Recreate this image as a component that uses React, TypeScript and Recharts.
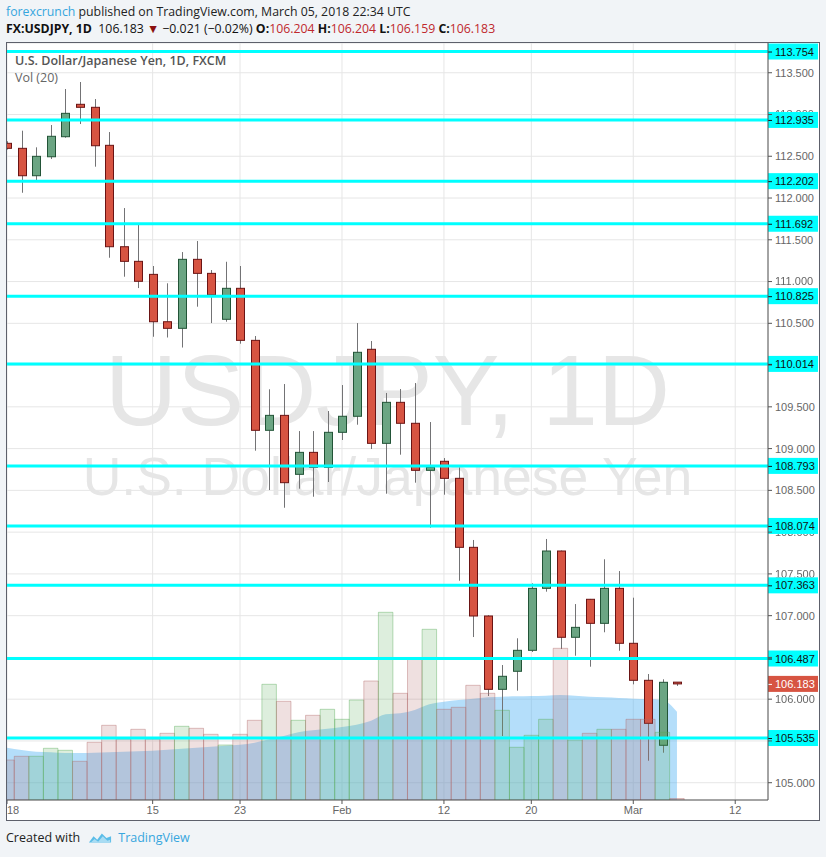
import React from 'react';
import { ComposedChart, Bar, Area, XAxis, YAxis, CartesianGrid, ReferenceLine, Cell } from 'recharts';

const dates = ['Jan 1','Jan 2','Jan 3','Jan 4','Jan 5','Jan 8','Jan 9','Jan 10','Jan 11','Jan 12','Jan 15','Jan 16','Jan 17','Jan 18','Jan 19','Jan 22','Jan 23','Jan 24','Jan 25','Jan 26','Jan 29','Jan 30','Jan 31','Feb 1','Feb 2','Feb 5','Feb 6','Feb 7','Feb 8','Feb 9','Feb 12','Feb 13','Feb 14','Feb 15','Feb 16','Feb 19','Feb 20','Feb 21','Feb 22','Feb 23','Feb 26','Feb 27','Feb 28','Mar 1','Mar 2','Mar 5','Mar 6'];
const opens = [112.655,112.595,112.267,112.494,112.734,113.122,113.086,112.631,111.417,111.242,111.086,110.519,110.44,111.266,111.098,110.548,110.919,110.296,109.219,109.398,108.692,108.955,108.776,109.195,109.387,110.189,109.063,109.554,109.303,108.74,108.848,108.644,107.818,106.996,106.118,106.334,106.585,107.327,107.774,106.741,107.196,106.908,107.327,106.669,106.226,105.448,106.204];
const highs = [112.68,112.806,112.607,112.874,113.305,113.389,113.185,112.79,111.88,111.677,111.186,110.979,111.353,111.485,111.138,111.237,111.186,110.348,109.71,109.773,109.21,109.21,109.45,109.761,110.503,110.288,109.666,109.713,109.785,109.318,108.887,108.776,107.906,107.006,106.409,106.729,107.387,107.918,107.78,107.139,107.2,107.675,107.534,107.215,106.301,106.238,106.204];
const lows = [112.58,112.063,112.215,112.467,112.722,112.886,112.375,111.285,111.058,110.922,110.339,110.33,110.21,110.699,110.503,110.519,110.256,108.975,108.504,108.292,108.52,108.424,108.6,109.103,109.286,108.995,108.46,108.927,108.592,108.053,108.448,107.418,106.744,106.038,105.559,106.102,106.565,107.287,106.601,106.52,106.389,106.801,106.58,106.178,105.263,105.359,106.159];
const closes = [112.595,112.267,112.499,112.739,113.014,113.086,112.626,111.417,111.242,111.003,110.519,110.44,111.266,111.098,110.839,110.919,110.296,109.219,109.398,108.592,108.955,108.776,109.195,109.387,110.153,109.063,109.554,109.303,108.74,108.776,108.644,107.818,106.996,106.118,106.274,106.585,107.327,107.774,106.741,106.86,106.908,107.327,106.669,106.226,105.711,106.202,106.183];
const volumes = [40,43.7,43.7,51.7,49.7,38.7,57.7,74.7,60.7,70.7,60.7,66.7,73.7,71.7,65.7,55,65.7,79.7,115.7,98.7,79.7,84.7,90.7,80.7,100,119,187.7,106.7,140.7,170.7,90.7,92.7,114.7,106.7,89.7,52.7,64.7,80.7,151.7,60,66.7,70.7,70.7,80.7,80.7,67.7,1.5];
const volumeMa = [52.3,50,48.3,47.7,47,47,47.3,47.7,48.3,48.7,49.3,50.3,51.3,52.3,53.3,54.3,55.3,57.3,60.7,64,67.7,69.7,71.3,73,75.3,79.3,85.7,86.7,90,95.7,98.3,100,101.3,102.7,103.3,103.7,104,104.3,105,104.3,103.3,102.7,102,101.3,101,100,88.3];
const levels = [113.754,112.935,112.202,111.692,110.825,110.014,108.793,108.074,107.363,106.487,105.535];
const priceTicks = [105,105.5,106,106.5,107,107.5,108,108.5,109,109.5,110,110.5,111,111.5,112,112.5,113,113.5];
const timeTickIdx = [0,10,16,23,30,36,43,50];
const timeTickLabels = ["'18",'15','23','Feb','12','20','Mar','12'];
const lastPrice = 106.183;
const priceDomain = [104.793, 113.856];

const data = dates.map((d, i) => ({
  i,
  date: d,
  open: opens[i],
  high: highs[i],
  low: lows[i],
  close: closes[i],
  range: [lows[i], highs[i]],
  vol: volumes[i],
  volMa: volumeMa[i],
}));

const UP = '#6ba583';
const UP_BORDER = '#225437';
const DOWN = '#d75442';
const DOWN_BORDER = '#6b1414';
const AXIS_FONT = '"Liberation Sans", Arial, sans-serif';

const Candle = (props: any) => {
  const { x, y, width, height, payload } = props;
  if (x == null || y == null) return null;
  const top = Math.min(y, y + height);
  const bot = Math.max(y, y + height);
  const hi = payload.high;
  const lo = payload.low;
  const span = hi - lo || 1e-9;
  const py = (v: number) => top + ((hi - v) / span) * (bot - top);
  const cx = Math.round(x + width / 2) + 0.5;
  const up = payload.close >= payload.open;
  const bTop = py(Math.max(payload.open, payload.close));
  const bBot = py(Math.min(payload.open, payload.close));
  return (
    <g>
      <line x1={cx} x2={cx} y1={top} y2={bot} stroke="#737375" strokeWidth={1} />
      <rect
        x={cx - 4}
        y={bTop}
        width={8}
        height={Math.max(bBot - bTop, 1)}
        fill={up ? UP : DOWN}
        stroke={up ? UP_BORDER : DOWN_BORDER}
        strokeWidth={1}
      />
    </g>
  );
};

// Price-axis tick label; the parts that the level boxes cover are masked out,
// as the boxes are painted over the axis in the original. Labels that a box
// covers completely are not visible in the original, so they are skipped.
const PriceTick = (props: any) => {
  const { x, y, payload, viewBox } = props;
  const v = payload.value as number;
  const boxes = [...levels, lastPrice];
  const pxPerUnit = viewBox && viewBox.height ? viewBox.height / (priceDomain[1] - priceDomain[0]) : 83.53;
  const covering = boxes
    .map((b) => y - (b - v) * pxPerUnit)
    .filter((yb) => Math.abs(yb - y) < 16);
  if (covering.some((yb) => Math.abs(yb - y) <= 3.5)) return <g />;
  const id = `pmask-${String(v).replace('.', '_')}`;
  return (
    <g>
      {covering.length > 0 && (
        <defs>
          <mask id={id} maskUnits="userSpaceOnUse" x={x - 20} y={y - 20} width={80} height={40}>
            <rect x={x - 20} y={y - 20} width={80} height={40} fill="white" />
            {covering.map((yb, k) => (
              <rect key={k} x={x - 20} y={yb - 8} width={80} height={16} fill="black" />
            ))}
          </mask>
        </defs>
      )}
      <text
        x={x}
        y={y}
        dy="0.355em"
        textAnchor="start"
        fontSize={11}
        fill="#666"
        fontFamily={AXIS_FONT}
        mask={covering.length > 0 ? `url(#${id})` : undefined}
      >
        {v.toFixed(3)}
      </text>
    </g>
  );
};

const LevelLabel = (props: any) => {
  const { viewBox, txt, bg, color } = props;
  if (!viewBox) return null;
  const lx = viewBox.x + viewBox.width;
  const y = viewBox.y;
  return (
    <g>
      <rect x={lx} y={y - 8} width={50} height={16} fill={bg} />
      <line x1={lx} x2={lx + 4} y1={y + 0.5} y2={y + 0.5} stroke={color} strokeWidth={1} />
      <text x={lx + 7} y={y + 4} fontSize={11} fill={color} fontFamily={AXIS_FONT}>{txt}</text>
    </g>
  );
};

const TimeTick = (props: any) => {
  const { x, y, payload } = props;
  const idx = timeTickIdx.indexOf(payload.value);
  const label = idx >= 0 ? timeTickLabels[idx] : '';
  const dx = payload.value === 0 ? 5 : 0;
  return (
    <text x={x + dx} y={y + 8} textAnchor="middle" fontSize={11} fill="#666" fontFamily={AXIS_FONT}>{label}</text>
  );
};

export default function App() {
  return (
    <div style={{ position: 'absolute', left: 0, top: 0, width: 826, height: 857, background: '#f1f4f7', overflow: 'hidden', fontFamily: '"Open Sans", sans-serif' }}>
      <div style={{ position: 'absolute', left: 6, top: 2, fontSize: 12.3, lineHeight: '20px', color: '#222', whiteSpace: 'nowrap' }}>
        <span style={{ color: '#37a6de' }}>forexcrunch</span> published on TradingView.com, March 05, 2018 22:34 UTC
      </div>
      <div style={{ position: 'absolute', left: 6, top: 19, fontSize: 12.3, lineHeight: '20px', color: '#111', whiteSpace: 'nowrap' }}>
        <b>FX:USDJPY, 1D</b>&nbsp; 106.183 <span style={{ color: '#8b1010' }}>▼</span> −0.021 (−0.02%) <b>O:</b><span style={{ color: '#c0282d' }}>106.204</span> <b>H:</b><span style={{ color: '#c0282d' }}>106.204</span> <b>L:</b><span style={{ color: '#c0282d' }}>106.159</span> <b>C:</b><span style={{ color: '#c0282d' }}>106.183</span>
      </div>

      <div style={{ position: 'absolute', left: 6, top: 42, width: 812, height: 777, border: '1px solid #5d606b', background: '#ffffff', overflow: 'hidden' }}>
        <div style={{ position: 'absolute', left: -7, top: -43 + 340, width: 775, textAlign: 'center', fontSize: 100, lineHeight: '100px', color: '#e6e6e6', fontFamily: AXIS_FONT, whiteSpace: 'nowrap' }}>USDJPY, 1D</div>
        <div style={{ position: 'absolute', left: -7, top: -43 + 450, width: 775, textAlign: 'center', fontSize: 53.5, lineHeight: '53.5px', color: '#e6e6e6', fontFamily: AXIS_FONT, whiteSpace: 'nowrap' }}>U.S. Dollar/Japanese Yen</div>
        <div style={{ position: 'absolute', left: -7, top: -43 }}>
          <ComposedChart width={826} height={857} data={data} margin={{ top: 43, left: 7, right: 7, bottom: 37 }}>
            <CartesianGrid xAxisId="t" yAxisId="p" stroke="#e6e6e6" strokeWidth={1} />
            <XAxis
              xAxisId="t"
              dataKey="i"
              type="number"
              domain={[0, 52.25]}
              allowDataOverflow
              ticks={timeTickIdx}
              interval={0}
              height={20}
              tickSize={4}
              stroke="#555"
              tick={<TimeTick />}
            />
            <XAxis xAxisId="v" dataKey="i" type="number" domain={[0, 52.25]} allowDataOverflow hide />
            <YAxis
              yAxisId="p"
              orientation="right"
              type="number"
              domain={priceDomain}
              allowDataOverflow
              ticks={priceTicks}
              interval={0}
              width={51}
              tickSize={4}
              tickMargin={3}
              stroke="#555"
              tick={<PriceTick />}
            />
            <YAxis yAxisId="v" type="number" domain={[0, 757]} allowDataOverflow hide />
            <Bar xAxisId="t" yAxisId="p" dataKey="range" barSize={9} shape={<Candle />} isAnimationActive={false} />
            <Bar xAxisId="v" yAxisId="v" dataKey="vol" barSize={14.5} isAnimationActive={false}>
              {data.map((d, k) => (
                <Cell
                  key={k}
                  fill={d.close >= d.open ? 'rgba(85,170,85,0.2)' : 'rgba(175,100,100,0.2)'}
                  stroke={d.close >= d.open ? 'rgba(85,170,85,0.4)' : 'rgba(175,100,100,0.4)'}
                  strokeWidth={1}
                />
              ))}
            </Bar>
            <Area xAxisId="v" yAxisId="v" dataKey="volMa" type="monotone" stroke="none" fill="#58b5f5" fillOpacity={0.45} isAnimationActive={false} />
            {levels.map((lv) => (
              <ReferenceLine
                key={lv}
                xAxisId="t"
                yAxisId="p"
                y={lv}
                stroke="#00ffff"
                strokeWidth={3}
                label={<LevelLabel txt={lv.toFixed(3)} bg="#00ffff" color="#111" />}
              />
            ))}
            <ReferenceLine
              xAxisId="t"
              yAxisId="p"
              y={lastPrice}
              stroke="#ffffff"
              strokeOpacity={0}
              label={<LevelLabel txt={lastPrice.toFixed(3)} bg="#d75442" color="#ffffff" />}
            />
          </ComposedChart>
        </div>
        <div style={{ position: 'absolute', left: 8, top: 10, fontSize: 12.5, fontWeight: 600, color: '#555', whiteSpace: 'nowrap', lineHeight: '16px' }}>U.S. Dollar/Japanese Yen, 1D, FXCM</div>
        <div style={{ position: 'absolute', left: 8, top: 27, fontSize: 12.5, color: '#666', whiteSpace: 'nowrap', lineHeight: '16px' }}>Vol (20)</div>
      </div>

      <div style={{ position: 'absolute', left: 6, top: 829, fontSize: 12.5, lineHeight: '18px', color: '#222', whiteSpace: 'nowrap', display: 'flex', alignItems: 'center' }}>
        <span>Created with</span>
        <svg width={24} height={14} viewBox="0 0 26 14" style={{ marginLeft: 8, marginRight: 6 }}>
          <path d="M1 12 L6 5 L10 9 L15 2 L20 7 L25 5 L25 12 Z" fill="#5bbde8" />
          <path d="M3 12 L7 8 L11 11 L16 5 L21 10 L24 9 L24 12 Z" fill="#a9dcf3" />
        </svg>
        <span style={{ color: '#37a6de' }}>TradingView</span>
      </div>
    </div>
  );
}
